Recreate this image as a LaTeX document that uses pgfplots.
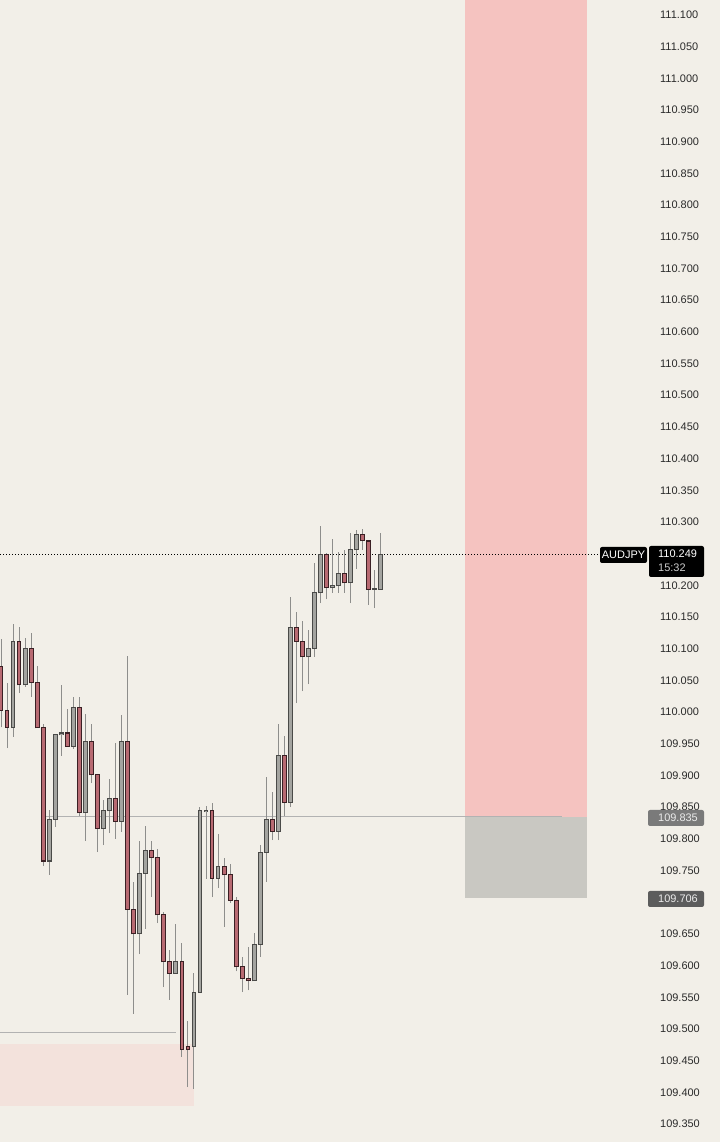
\documentclass[border=0pt]{standalone}
\usepackage{pgfplots}
\usepackage{pgfplotstable}
\pgfplotsset{compat=1.18}
\usepackage{fontspec}
\setmainfont{Liberation Sans}
\definecolor{bg}{HTML}{F2EFE8}
\definecolor{zonepink}{HTML}{F5C3C0}
\definecolor{zonegray}{HTML}{C9C8C2}
\definecolor{zonelight}{HTML}{F3E2DC}
\definecolor{redfill}{HTML}{B86A72}
\definecolor{redline}{HTML}{3A2024}
\definecolor{grayfill}{HTML}{A4A4A0}
\definecolor{grayline}{HTML}{4A4A48}
\definecolor{wick}{HTML}{8E8E8C}
\definecolor{ticktext}{HTML}{2A2A2A}
% i = candle index, u = 1 for an up (grey) candle, 0 for a down (red) candle
\pgfplotstableread{
i  O        H        L        C        u
0  110.072  110.115  109.976  110.003  0
1  110.003  110.046  109.943  109.976  0
2  109.976  110.139  109.961  110.112  1
3  110.112  110.134  110.030  110.043  0
4  110.043  110.117  110.040  110.101  1
5  110.101  110.125  110.024  110.046  0
6  110.046  110.073  109.975  109.975  0
7  109.975  109.981  109.757  109.765  0
8  109.765  109.845  109.743  109.831  1
9  109.831  109.966  109.819  109.964  1
10 109.964  110.043  109.931  109.967  1
11 109.967  110.005  109.945  109.946  0
12 109.946  110.024  109.942  110.008  1
13 110.008  110.024  109.836  109.841  0
14 109.841  109.997  109.797  109.953  1
15 109.953  109.981  109.888  109.901  0
16 109.901  109.902  109.779  109.816  0
17 109.816  109.861  109.790  109.844  1
18 109.844  109.894  109.809  109.864  1
19 109.864  109.951  109.800  109.828  0
20 109.828  109.995  109.811  109.954  1
21 109.954  110.089  109.554  109.689  0
22 109.689  109.732  109.524  109.650  0
23 109.650  109.797  109.618  109.746  1
24 109.746  109.820  109.658  109.781  1
25 109.781  109.797  109.708  109.770  0
26 109.770  109.784  109.667  109.680  0
27 109.680  109.685  109.566  109.606  0
28 109.606  109.625  109.546  109.588  0
29 109.588  109.666  109.588  109.606  1
30 109.606  109.636  109.456  109.468  0
31 109.472  109.513  109.408  109.468  0
32 109.472  109.588  109.405  109.558  1
33 109.558  109.850  109.557  109.844  1
34 109.843  109.852  109.737  109.845  1
35 109.844  109.857  109.708  109.738  0
36 109.738  109.808  109.722  109.757  1
37 109.757  109.770  109.661  109.743  0
38 109.743  109.760  109.699  109.703  0
39 109.703  109.708  109.591  109.598  0
40 109.598  109.614  109.558  109.579  0
41 109.579  109.629  109.561  109.576  0
42 109.576  109.651  109.576  109.634  1
43 109.634  109.790  109.614  109.779  1
44 109.779  109.898  109.732  109.830  1
45 109.830  109.874  109.798  109.812  0
46 109.812  109.981  109.798  109.932  1
47 109.932  109.962  109.836  109.858  0
48 109.858  110.182  109.850  110.133  1
49 110.133  110.158  110.014  110.112  0
50 110.112  110.144  110.033  110.087  0
51 110.087  110.130  110.044  110.100  1
52 110.100  110.235  110.087  110.188  1
53 110.188  110.294  110.172  110.249  1
54 110.249  110.251  110.178  110.196  0
55 110.196  110.273  110.188  110.199  1
56 110.199  110.253  110.188  110.218  1
57 110.218  110.256  110.188  110.204  0
58 110.204  110.283  110.172  110.256  1
59 110.256  110.287  110.226  110.281  1
60 110.281  110.289  110.256  110.270  0
61 110.270  110.270  110.169  110.194  0
62 110.194  110.224  110.164  110.195  1
63 110.194  110.283  110.194  110.249  1
}\candles
\pgfplotsset{candle/.style={draw=none, mark=none, forget plot,
  error bars/.cd, y dir=plus, y explicit, error mark=none, error bar style={#1}}}
\begin{document}
\begin{tikzpicture}
\fill[bg] (0,0) rectangle (720bp,1142bp);
\path[use as bounding box] (0,0) rectangle (720bp,1142bp);
\begin{axis}[
  at={(0,0)}, anchor=south west,
  scale only axis, width=648bp, height=1142bp,
  xmin=0, xmax=648, ymin=109.32156, ymax=111.12367,
  axis line style={draw=none},
  xtick=\empty,
  ytick={109.35,109.40,...,109.66,109.75,109.80,...,110.21,110.30,110.35,...,111.12},
  yticklabel pos=right,
  major tick length=0pt,
  yticklabel style={anchor=west, inner sep=0pt, xshift=12bp,
    font=\fontsize{11}{13}\selectfont, text=ticktext,
    /pgf/number format/.cd, fixed, fixed zerofill, precision=3},
  /pgf/number format/assume math mode=true,
  clip=true,
]
% zones
\addplot[fill=zonepink, draw=none, forget plot] coordinates {(465,109.835) (587,109.835) (587,111.2) (465,111.2)};
\addplot[fill=zonegray, draw=none, forget plot] coordinates {(465,109.706) (587,109.706) (587,109.835) (465,109.835)};
\addplot[fill=zonelight, draw=none, forget plot] coordinates {(0,109.378) (194,109.378) (194,109.476) (0,109.476)};
% horizontal levels
\addplot[draw=black!30, line width=0.8bp, mark=none, forget plot] coordinates {(43,109.835) (562,109.835)};
\addplot[draw=black!30, line width=0.8bp, mark=none, forget plot] coordinates {(0,109.494) (176,109.494)};
\addplot[draw=black, line width=0.8bp, mark=none, dash pattern=on 1bp off 2bp, forget plot] coordinates {(0,110.249) (600,110.249)};
% wicks
\addplot[candle={draw=wick, line width=1bp}]
  table[x expr={1+6.03*\thisrow{i}}, y=L, y error expr={\thisrow{H}-\thisrow{L}}] {\candles};
% bodies, outline then fill : grey (up)
\addplot[restrict expr to domain={\thisrow{u}}{1:1}, candle={draw=grayline, line width=4.8bp}]
  table[x expr={1+6.03*\thisrow{i}}, y expr={min(\thisrow{O},\thisrow{C})-0.0008}, y error expr={abs(\thisrow{C}-\thisrow{O})+0.0016}] {\candles};
\addplot[restrict expr to domain={\thisrow{u}}{1:1}, candle={draw=grayfill, line width=2.8bp}]
  table[x expr={1+6.03*\thisrow{i}}, y expr={min(\thisrow{O},\thisrow{C})+0.0008}, y error expr={max(abs(\thisrow{C}-\thisrow{O})-0.0016,0)}] {\candles};
% bodies : red (down)
\addplot[restrict expr to domain={\thisrow{u}}{0:0}, candle={draw=redline, line width=4.8bp}]
  table[x expr={1+6.03*\thisrow{i}}, y expr={min(\thisrow{O},\thisrow{C})-0.0008}, y error expr={abs(\thisrow{C}-\thisrow{O})+0.0016}] {\candles};
\addplot[restrict expr to domain={\thisrow{u}}{0:0}, candle={draw=redfill, line width=2.8bp}]
  table[x expr={1+6.03*\thisrow{i}}, y expr={min(\thisrow{O},\thisrow{C})+0.0008}, y error expr={max(abs(\thisrow{C}-\thisrow{O})-0.0016,0)}] {\candles};
\end{axis}
% price-scale labels (pixel coordinates: x, 1142 - y)
\begin{scope}[font=\fontsize{11}{13}\selectfont]
\fill[black, rounded corners=2bp] (600bp,{(1142-563)*1bp}) rectangle (647bp,{(1142-547)*1bp});
\node[text=white, inner sep=0pt] at (623.5bp,{(1142-555)*1bp}) {AUDJPY};
\fill[black, rounded corners=2bp] (649bp,{(1142-577)*1bp}) rectangle (704bp,{(1142-546)*1bp});
\node[text=white, anchor=west, inner sep=0pt] at (658bp,{(1142-554)*1bp}) {110.249};
\node[text=white!80!black, anchor=west, inner sep=0pt] at (658bp,{(1142-568)*1bp}) {15:32};
\fill[black!52, rounded corners=2bp] (648bp,{(1142-826)*1bp}) rectangle (704bp,{(1142-810)*1bp});
\node[text=white!92!black, anchor=west, inner sep=0pt] at (658bp,{(1142-818)*1bp}) {109.835};
\fill[black!64, rounded corners=2bp] (648bp,{(1142-907)*1bp}) rectangle (704bp,{(1142-891)*1bp});
\node[text=white!92!black, anchor=west, inner sep=0pt] at (658bp,{(1142-899)*1bp}) {109.706};
\end{scope}
\end{tikzpicture}
\end{document}
